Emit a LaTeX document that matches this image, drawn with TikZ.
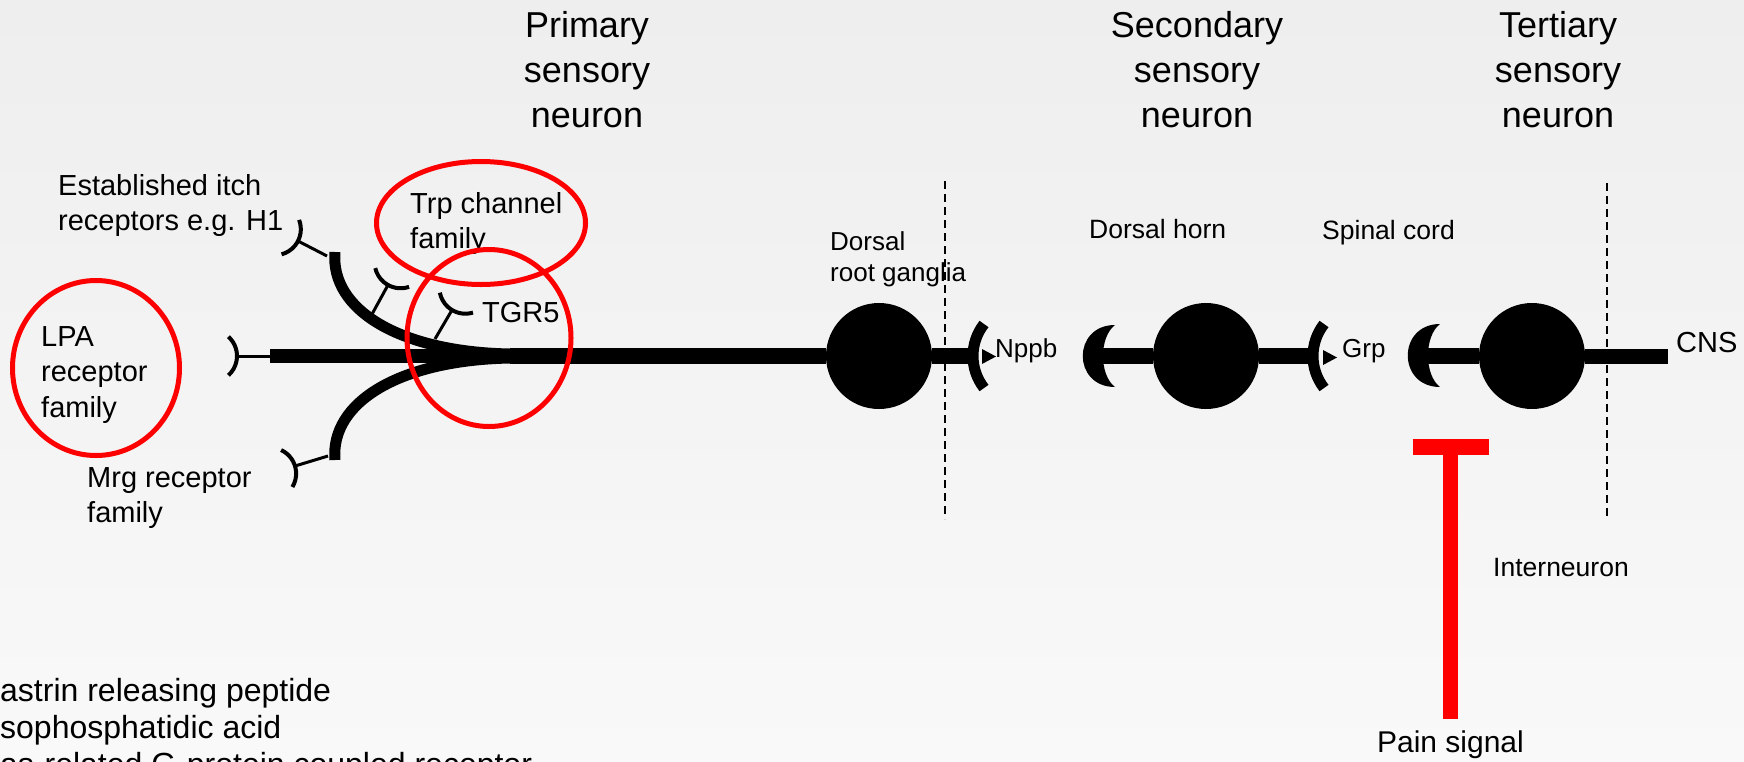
\documentclass[tikz,border=0pt]{standalone}
\usepackage{fontspec}
\setmainfont{Liberation Sans}
\usetikzlibrary{positioning, calc}
\definecolor{bgtop}{RGB}{238,238,238}
\definecolor{bgbottom}{RGB}{249,249,249}
\definecolor{ringred}{RGB}{255,0,0}
\newcommand{\receptorcup}[2]{%
  \draw[cupline] ($(#1)+(#2:26)+(#2+132:26)$) arc[start angle=#2+132, end angle=#2+228, radius=26];}
\newcommand{\presyncup}[1]{%
  \draw[presynline] ($(#1)+(142:52)$) arc[start angle=142, end angle=218, radius=52];}
\begin{document}
\begin{tikzpicture}
  [x=1pt, y=-1pt,
   somabody/.style={circle,fill=black,inner sep=0pt,minimum size=106pt},
   axonline/.style={line width=16.5pt},
   stemline/.style={line width=3pt},
   cupline/.style={line width=4pt},
   branchline/.style={line width=11pt},
   presynline/.style={line width=11pt},
   ringmark/.style={draw=ringred,line width=5pt},
   inhibline/.style={draw=ringred,line width=15pt},
   boundaryline/.style={line width=1.6pt,dash pattern=on 8pt off 5pt},
   headlabel/.style={align=center,inner sep=0pt,anchor=north,font=\fontsize{36}{45}\selectfont},
   itemlabel/.style={align=left,inner sep=0pt,anchor=north west,font=\fontsize{29}{35.5}\selectfont},
   smalllabel/.style={inner sep=0pt,anchor=base west,font=\fontsize{26.5}{31}\selectfont},
   notelabel/.style={inner sep=0pt,anchor=base west,font=\fontsize{32}{37}\selectfont}]
  \useasboundingbox (0,0) rectangle (1744,761);
  \clip (0,0) rectangle (1744,761);
  \shade [top color=bgtop,bottom color=bgbottom] (0,0) rectangle (1744,761);

  \node (primaryhead) [headlabel] at (587,11) {Primary\\sensory\\neuron};
  \node (secondaryhead) [headlabel] at (1197,11) {Secondary\\sensory\\neuron};
  \node (tertiaryhead) [headlabel] at (1558,11) {Tertiary\\sensory\\neuron};

  \coordinate (lpatip) at (237,356);
  \coordinate (axonstart) at (270,356);
  \coordinate (axonmerge) at (510,356);
  \node (drg) [somabody] at (879,356) {};
  \draw [stemline] (lpatip) -- (axonstart);
  \draw [line width=14pt] (axonstart) -- (axonmerge);
  \draw [axonline] (axonmerge) -- (drg);
  \coordinate (upperend) at (335,252);
  \coordinate (lowerend) at (335,460);
  \draw [branchline] (upperend) .. controls (330,310) and (400,352) .. (510,354);
  \draw [branchline] (lowerend) .. controls (330,402) and (400,360) .. (510,358);

  \coordinate (htip) at (298,241);
  \coordinate (trptip) at (388,285);
  \coordinate (tgrtip) at (452,310);
  \coordinate (mrgtip) at (295,466);
  \draw [stemline] (327,256) -- (htip);
  \draw [stemline] (371,316) -- (trptip);
  \draw [stemline] (435,339) -- (tgrtip);
  \draw [stemline] (328,456) -- (mrgtip);
  \receptorcup{lpatip}{180}
  \receptorcup{htip}{207}
  \receptorcup{trptip}{299}
  \receptorcup{tgrtip}{301}
  \receptorcup{mrgtip}{163}

  \coordinate (nppbend) at (970,356);
  \coordinate (nppbcup) at (1025,356);
  \draw [axonline] (drg) -- (nppbend);
  \presyncup{nppbcup}
  \fill (982,349) -- (982,364) -- (996,356.5) -- cycle;

  \fill (1115,325) .. controls (1072,325) and (1072,387) .. (1115,387)
    .. controls (1099,375) and (1099,337) .. (1115,325) -- cycle;
  \coordinate (hornstart) at (1100,356);
  \node (hornsoma) [somabody] at (1206,356) {};
  \coordinate (grpend) at (1312,356);
  \coordinate (grpcup) at (1365,356);
  \draw [axonline] (hornstart) -- (hornsoma);
  \draw [axonline] (hornsoma) -- (grpend);
  \presyncup{grpcup}
  \fill (1323,350) -- (1323,365) -- (1337,357.5) -- cycle;

  \fill (1440,324) .. controls (1397,324) and (1397,387) .. (1440,387)
    .. controls (1424,375) and (1424,336) .. (1440,324) -- cycle;
  \coordinate (tertstart) at (1425,356);
  \node (tertsoma) [somabody] at (1532,356) {};
  \coordinate (cnsend) at (1668,356);
  \draw [axonline] (tertstart) -- (tertsoma);
  \draw [line width=15pt] (tertsoma) -- (cnsend);

  \draw [boundaryline] (945,181) -- (945,519);
  \draw [boundaryline] (1607,183) -- (1607,518);

  \node (itchlabel) [itemlabel] at (58,174) {Established itch\\receptors e.g. H1};
  \node (lpalabel) [itemlabel] at (41,326) {LPA\\receptor\\family};
  \node (trplabel) [itemlabel] at (410,192) {Trp channel\\family};
  \node (tgrlabel) [itemlabel,anchor=base west] at (482,322) {TGR5};
  \node (mrglabel) [itemlabel] at (87,467) {Mrg receptor\\family};
  \node (drglabel) [smalllabel,anchor=north west,align=left,font=\fontsize{26}{31}\selectfont] at (830,231) {Dorsal\\root ganglia};
  \node (hornlabel) [smalllabel] at (1089,238) {Dorsal horn};
  \node (cordlabel) [smalllabel] at (1322,239) {Spinal cord};
  \node (nppblabel) [smalllabel,font=\fontsize{26}{31}\selectfont] at (995,357) {Nppb};
  \node (grplabel) [smalllabel,font=\fontsize{26}{31}\selectfont] at (1342,357) {Grp};
  \node (cnslabel) [itemlabel,anchor=base west] at (1676,352) {CNS};
  \node (interlabel) [smalllabel] at (1493,576) {Interneuron};

  \node (painlabel) [inner sep=0pt,anchor=base,font=\fontsize{30}{36}\selectfont] at (1450.5,752) {Pain signal};
  \coordinate (inhibbar) at (1450.5,447);
  \draw [inhibline,shorten <=11.5pt] (painlabel.north) -- (inhibbar);
  \draw [inhibline,line width=16pt] ([xshift=-38pt]inhibbar) -- ([xshift=38pt]inhibbar);

  \node (grpnote) [notelabel] at (0,701) {astrin releasing peptide};
  \node (lpanote) [notelabel] at (0,738) {sophosphatidic acid};
  \node (mrgnote) [notelabel] at (0,775) {as-related G-protein coupled receptor};

  \draw [ringmark] (96,368) ellipse [x radius=83.5,y radius=87.5];
  \draw [ringmark] (481,223) ellipse [x radius=104.5,y radius=61.5];
  \draw [ringmark] (489,338) ellipse [x radius=82,y radius=88.5];
\end{tikzpicture}
\end{document}
